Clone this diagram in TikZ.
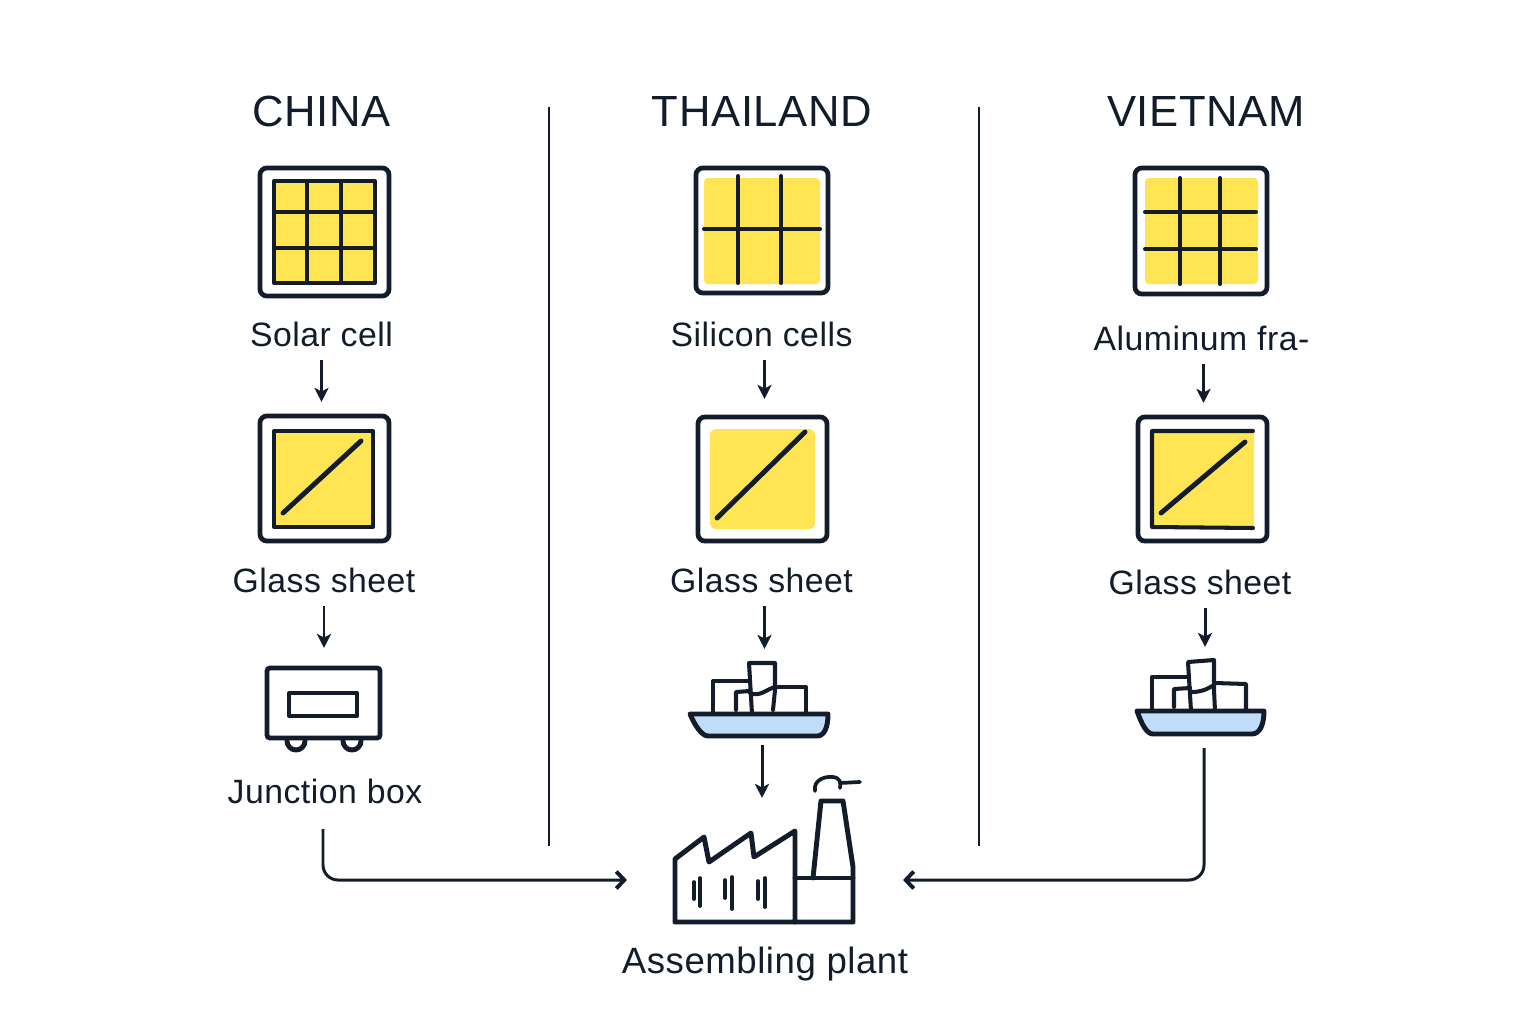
\documentclass[tikz,border=0pt]{standalone}
\usepackage{fontspec}
\setmainfont[LetterSpace=1.5]{Liberation Sans}
\newfontfamily\titlefont[LetterSpace=1.5]{Liberation Sans}
\usetikzlibrary{arrows.meta}
\definecolor{ink}{HTML}{121C2A}
\definecolor{cellyellow}{HTML}{FFE553}
\definecolor{hullblue}{HTML}{BFDDF9}
\tikzset{
	icon/.style={draw=ink, line width=1.4pt, line join=round, line cap=round},
	gridline/.style={draw=ink, line width=1.15pt, line join=round, line cap=round},
	thinicon/.style={draw=ink, line width=1.05pt, line join=round, line cap=round},
	panel/.style={draw=ink, line width=1.35pt, rounded corners=0.07cm, inner sep=0, outer sep=0, fill=white},
	sheet/.style={fill=cellyellow, rounded corners=0.02cm},
	hidden/.style={inner sep=0, outer sep=0},
	country/.style={anchor=base, inner sep=0, text=ink, font=\titlefont\fontsize{12.4}{15}\selectfont},
	caption/.style={anchor=base, inner xsep=0, inner ysep=0.06cm, outer sep=0, text height=0.24cm, text depth=0.08cm, text=ink, font=\fontsize{9.6}{11}\selectfont},
	flow/.style={draw=ink, line width=0.85pt, -{Stealth[length=0.14cm, width=0.14cm, inset=0.035cm]}, shorten >=0.14cm},
	longflow/.style={draw=ink, line width=0.85pt, -{Straight Barb[length=0.08cm, width=0.17cm, line width=1.1pt]}, rounded corners=0.15cm},
	divider/.style={draw=ink, line width=0.3pt}
}
\begin{document}
\begin{tikzpicture}[x=0.01cm, y=-0.01cm]
\useasboundingbox (0,0) rectangle (1536,1024);

\draw[divider] (549,107) -- (549,846);
\draw[divider] (979,107) -- (979,846);

\node[country] (chinaT) at (321.5,126.5) {CHINA};
\node[country] (thaiT) at (762,126.5) {THAILAND};
\node[country] (vietT) at (1206,126.5) {VIETNAM};

% first row
\node[panel, minimum width=1.29cm, minimum height=1.28cm] (cellA) at (324.5,232) {};
\node[panel, minimum width=1.32cm, minimum height=1.25cm] (cellB) at (762,230.5) {};
\node[panel, minimum width=1.32cm, minimum height=1.26cm] (cellC) at (1201,231) {};

\fill[sheet] (274,181) rectangle (375,283);
\draw[gridline] (274,181) rectangle (375,283);
\foreach \x in {307,341} {
	\draw[gridline] (\x,181) -- (\x,283);
}
\foreach \y in {212,248} {
	\draw[gridline] (274,\y) -- (375,\y);
}

\fill[sheet, rounded corners=0.04cm] (704,178) rectangle (820,284);
\foreach \x in {738,781} {
	\draw[gridline] (\x,176) -- (\x,283);
}
\draw[gridline] (704,229) -- (820,229);

\fill[sheet, rounded corners=0.04cm] (1145,178) rectangle (1258,284);
\foreach \x in {1180,1220} {
	\draw[gridline] (\x,178) -- (\x,284);
}
\foreach \y in {212,249} {
	\draw[gridline] (1145,\y) -- (1256,\y);
}

\node[caption] (solar) at (321.5,346) {Solar cell};
\node[caption] (silicon) at (761.5,346) {Silicon cells};
\node[caption] (alu) at (1201.5,350) {Aluminum fra-};

% second row
\node[panel, minimum width=1.29cm, minimum height=1.25cm] (glassA) at (324.5,478.5) {};
\node[panel, minimum width=1.29cm, minimum height=1.24cm] (glassB) at (762.5,479) {};
\node[panel, minimum width=1.29cm, minimum height=1.24cm] (glassC) at (1202.5,479) {};

\fill[sheet] (274,431) rectangle (373,527);
\draw[gridline] (274,431) rectangle (373,527);
\draw[icon] (283,513) -- (361,441);

\fill[sheet, rounded corners=0.06cm] (710,429) rectangle (815,529);
\draw[icon] (717,518) -- (805,432);

\fill[sheet] (1152,431) rectangle (1254,528);
\draw[gridline] (1253,431) -- (1152,431) -- (1152,527) -- (1253,528);
\draw[icon] (1161,513) -- (1245,442);

\node[caption] (glassTA) at (324,592) {Glass sheet};
\node[caption] (glassTB) at (761.5,592) {Glass sheet};
\node[caption] (glassTC) at (1200,594) {Glass sheet};

% third row
\draw[icon] (287,738) -- (287,741) arc[start angle=180, end angle=0, radius=9] -- (305,738);
\draw[icon] (343,738) -- (343,741) arc[start angle=180, end angle=0, radius=9] -- (361,738);
\node[panel, minimum width=1.13cm, minimum height=0.70cm, rounded corners=0.03cm] (jbox) at (323.5,703) {};
\draw[gridline] (289,693) rectangle (357,716);
\node[caption] (jtext) at (325,803) {Junction box};

\node[hidden, minimum width=1.38cm, minimum height=0.82cm] (shipB) at (759,704) {};
\draw[icon, fill=hullblue] (690,714) -- (828,714) .. controls (828,728) and (824,736) .. (817,736)
	-- (708,736) .. controls (702,736) and (695,726) .. (690,714) -- cycle;
\draw[gridline] (713,714) -- (713,681) -- (749,681);
\draw[gridline] (775,687) -- (806,687) -- (806,714);
\draw[gridline] (752,714) -- (749,663) -- (775,663) -- (775,690) -- (773,710);
\draw[gridline] (736,710) -- (736,692) -- (750,691);
\draw[gridline] (750,693) .. controls (760,697) and (765,690) .. (775,687);

\node[hidden, minimum width=1.27cm, minimum height=0.87cm] (shipC) at (1204,704.5) {};
\draw[icon, fill=hullblue] (1137,711) -- (1264,711) .. controls (1264,724) and (1260,734) .. (1252,734)
	-- (1153,734) .. controls (1147,734) and (1142,725) .. (1137,711) -- cycle;
\draw[gridline] (1152,711) -- (1152,677) -- (1188,677);
\draw[gridline] (1215,683) -- (1246,684) -- (1246,711);
\draw[gridline] (1191,711) -- (1188,662) -- (1214,660) -- (1214,690) -- (1215,711);
\draw[gridline] (1174,707) -- (1174,689) -- (1190,688);
\draw[gridline] (1192,692) .. controls (1200,692) and (1206,690) .. (1214,685);

% plant
\node[hidden, minimum width=2.76cm, minimum height=1.64cm] (plant) at (765,880) {};
\draw[icon] (675,922) -- (675,859) -- (704,837) -- (709,862) -- (751,833) -- (754,857) -- (795,831) -- (795,922) -- cycle;
\draw[icon] (795,922) -- (853,922) -- (853,867) -- (843,801) -- (821,801) -- (813,878);
\draw[icon] (795,878) -- (853,878);
\foreach \x/\a/\b in {694/882/899, 700/878/906, 725/880/898, 732/877/909, 758/881/899, 765/878/907} {
	\draw[thinicon] (\x,\a) -- (\x,\b);
}
\draw[thinicon] (815,791) .. controls (813,780) and (825,776) .. (833,777) .. controls (840,778) and (841,782) .. (840,788);
\draw[thinicon] (840,783) -- (860,782);
\node[caption, font=\fontsize{10.4}{12}\selectfont] (plantT) at (765,973) {Assembling plant};

% connectors
\draw[flow] (solar) -- (solar |- glassA.north);
\draw[flow, shorten >=0.2cm] (glassTA) -- (glassTA |- jbox.north);
\draw[flow, shorten >=0.18cm] ([xshift=0.03cm]silicon.south) -- ([xshift=0.03cm]silicon.south |- glassB.north);
\draw[flow] ([xshift=0.03cm]glassTB.south) -- ([xshift=0.03cm]glassTB.south |- shipB.north);
\draw[flow, shorten >=0] ([xshift=0.03cm]shipB.south) -- ([xshift=0.03cm]shipB.south |- plant.north);
\draw[flow] ([xshift=0.02cm]alu.south) -- ([xshift=0.02cm]alu.south |- glassC.north);
\draw[flow] ([xshift=0.05cm]glassTC.south) -- ([xshift=0.05cm]glassTC.south |- shipC.north);
\draw[longflow, shorten <=0.12cm] ([xshift=-0.02cm]jtext.south) |- (plant.west);
\draw[longflow] (shipC.south) |- (plant.east);

\end{tikzpicture}
\end{document}
